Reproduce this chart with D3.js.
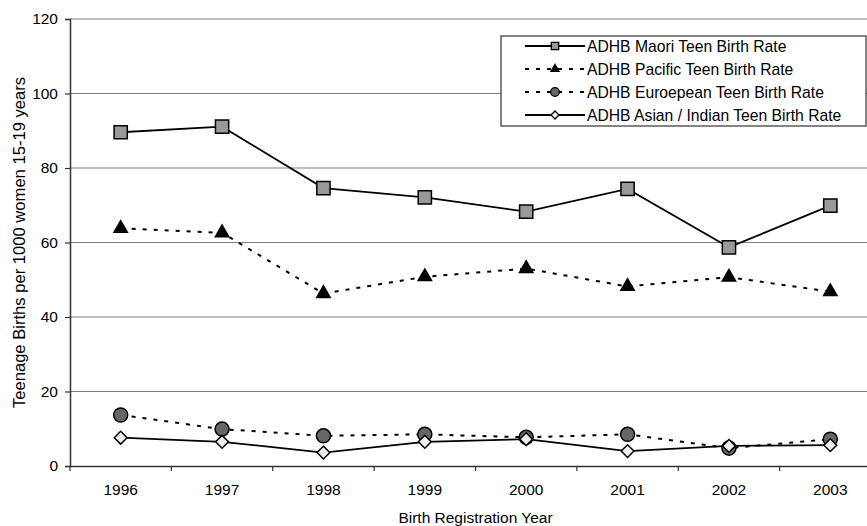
<!DOCTYPE html>
<html>
<head>
<meta charset="utf-8">
<script src="https://cdn.jsdelivr.net/npm/d3@7"></script>
<style>
  body { margin: 0; background: #fff; }
  svg { display: block; font-family: "Liberation Sans", Arial, sans-serif; }
</style>
</head>
<body>
<main></main>
<script>
'use strict';

const years = ['1996', '1997', '1998', '1999', '2000', '2001', '2002', '2003'];
const maori = [89.6, 91.1, 74.6, 72.1, 68.3, 74.4, 58.7, 69.9];
const pacific = [63.8, 62.6, 46.3, 50.8, 53.0, 48.2, 50.7, 46.8];
const european = [13.7, 9.9, 8.1, 8.5, 7.7, 8.5, 4.8, 7.2];
const asian = [7.6, 6.5, 3.6, 6.5, 7.2, 4.0, 5.4, 5.6];
const yTicks = [0, 20, 40, 60, 80, 100, 120];

const seriesNames = [
  'ADHB Maori Teen Birth Rate',
  'ADHB Pacific Teen Birth Rate',
  'ADHB Euroepean Teen Birth Rate',
  'ADHB Asian / Indian Teen Birth Rate'
];

const series = [
  { name: seriesNames[0], values: maori, dash: null, marker: 'square', fill: '#999999' },
  { name: seriesNames[1], values: pacific, dash: '4,7', marker: 'triangle', fill: '#000000' },
  { name: seriesNames[2], values: european, dash: '4,7', marker: 'circle', fill: '#666666' },
  { name: seriesNames[3], values: asian, dash: null, marker: 'diamond', fill: '#eeeeee' }
];

const width = 867, height = 526;
const plot = { left: 70, right: 881, top: 19, bottom: 466 };

const svg = d3.select('main')
  .append('svg')
  .attr('width', width)
  .attr('height', height);

const x = d3.scaleBand().domain(years).range([plot.left, plot.right]);
const cx = d => x(d) + x.bandwidth() / 2;
const y = d3.scaleLinear().domain([0, 120]).range([plot.bottom, plot.top]);

// gridlines
svg.append('g')
  .selectAll('line')
  .data(yTicks.filter(t => t > 0))
  .enter()
  .append('line')
  .attr('x1', plot.left)
  .attr('x2', plot.right)
  .attr('y1', d => y(d))
  .attr('y2', d => y(d))
  .attr('stroke', '#808080')
  .attr('stroke-width', 1.2);

// y axis
const yAxis = svg.append('g')
  .attr('transform', 'translate(' + plot.left + ',0)')
  .call(d3.axisLeft(y).tickValues(yTicks).tickSize(5).tickPadding(7));
yAxis.select('.domain').attr('stroke', '#333').attr('stroke-width', 1.5);
yAxis.selectAll('.tick line').attr('stroke', '#333').attr('stroke-width', 1.2);
yAxis.selectAll('.tick text')
  .style('font-size', '15.5px')
  .attr('fill', '#000');

// x axis, ticks at band edges
const xAxis = svg.append('g')
  .attr('transform', 'translate(0,' + plot.bottom + ')')
  .call(d3.axisBottom(x).tickSize(0).tickPadding(18));
xAxis.select('.domain').attr('stroke', '#333').attr('stroke-width', 1.5);
xAxis.selectAll('.tick text')
  .style('font-size', '15.5px')
  .attr('fill', '#000');
xAxis.selectAll('line.edge')
  .data(years)
  .enter()
  .append('line')
  .attr('class', 'edge')
  .attr('x1', d => x(d))
  .attr('x2', d => x(d))
  .attr('y1', 0)
  .attr('y2', 5)
  .attr('stroke', '#333')
  .attr('stroke-width', 1.2);

// axis titles
svg.append('text')
  .attr('x', (plot.left + plot.right) / 2)
  .attr('y', 523)
  .attr('text-anchor', 'middle')
  .style('font-size', '15.5px')
  .text('Birth Registration Year');

svg.append('text')
  .attr('transform', 'translate(25,' + ((plot.top + plot.bottom) / 2) + ') rotate(-90)')
  .attr('text-anchor', 'middle')
  .style('font-size', '16.6px')
  .text('Teenage Births per 1000 women 15-19 years');

const symbolFor = (kind, size) => {
  const types = {
    square: d3.symbolSquare,
    triangle: d3.symbolTriangle,
    circle: d3.symbolCircle,
    diamond: d3.symbolSquare
  };
  return d3.symbol().type(types[kind]).size(size)();
};
const bigSize = { square: 175, triangle: 110, circle: 155, diamond: 82 };
const smallSize = { square: 55, triangle: 45, circle: 60, diamond: 32 };
const rot = kind => kind === 'diamond' ? ' rotate(45)' : '';

const line = d3.line()
  .x((d, i) => cx(years[i]))
  .y(d => y(d));

// lines first, then markers on top
series.forEach(s => {
  svg.append('path')
    .datum(s.values)
    .attr('d', line)
    .attr('fill', 'none')
    .attr('stroke', '#000')
    .attr('stroke-width', s.dash ? 2 : 1.8)
    .attr('stroke-dasharray', s.dash);
});

series.forEach(s => {
  svg.append('g')
    .selectAll('path')
    .data(s.values)
    .enter()
    .append('path')
    .attr('transform', (d, i) => 'translate(' + cx(years[i]) + ',' + y(d) + ')' + rot(s.marker))
    .attr('d', symbolFor(s.marker, bigSize[s.marker]))
    .attr('fill', s.fill)
    .attr('stroke', '#000')
    .attr('stroke-width', s.marker === 'triangle' ? 0 : 1.5);
});

// legend
const legend = svg.append('g').attr('transform', 'translate(501,36)');
legend.append('rect')
  .attr('width', 365)
  .attr('height', 90)
  .attr('fill', '#fff')
  .attr('stroke', '#333')
  .attr('stroke-width', 1.2);

const row = legend.selectAll('g.row')
  .data(series)
  .enter()
  .append('g')
  .attr('class', 'row')
  .attr('transform', (d, i) => 'translate(0,' + (10 + i * 23) + ')');

row.append('line')
  .attr('x1', 24)
  .attr('x2', 84)
  .attr('stroke', '#000')
  .attr('stroke-width', d => d.dash ? 2 : 1.8)
  .attr('stroke-dasharray', d => d.dash);

row.append('path')
  .attr('transform', d => 'translate(54,0)' + rot(d.marker))
  .attr('d', d => symbolFor(d.marker, smallSize[d.marker]))
  .attr('fill', d => d.fill)
  .attr('stroke', '#000')
  .attr('stroke-width', d => d.marker === 'triangle' ? 0 : 1.3);

row.append('text')
  .attr('x', 86)
  .attr('dy', '0.36em')
  .style('font-size', '15.7px')
  .text(d => d.name);
</script>
</body>
</html>
